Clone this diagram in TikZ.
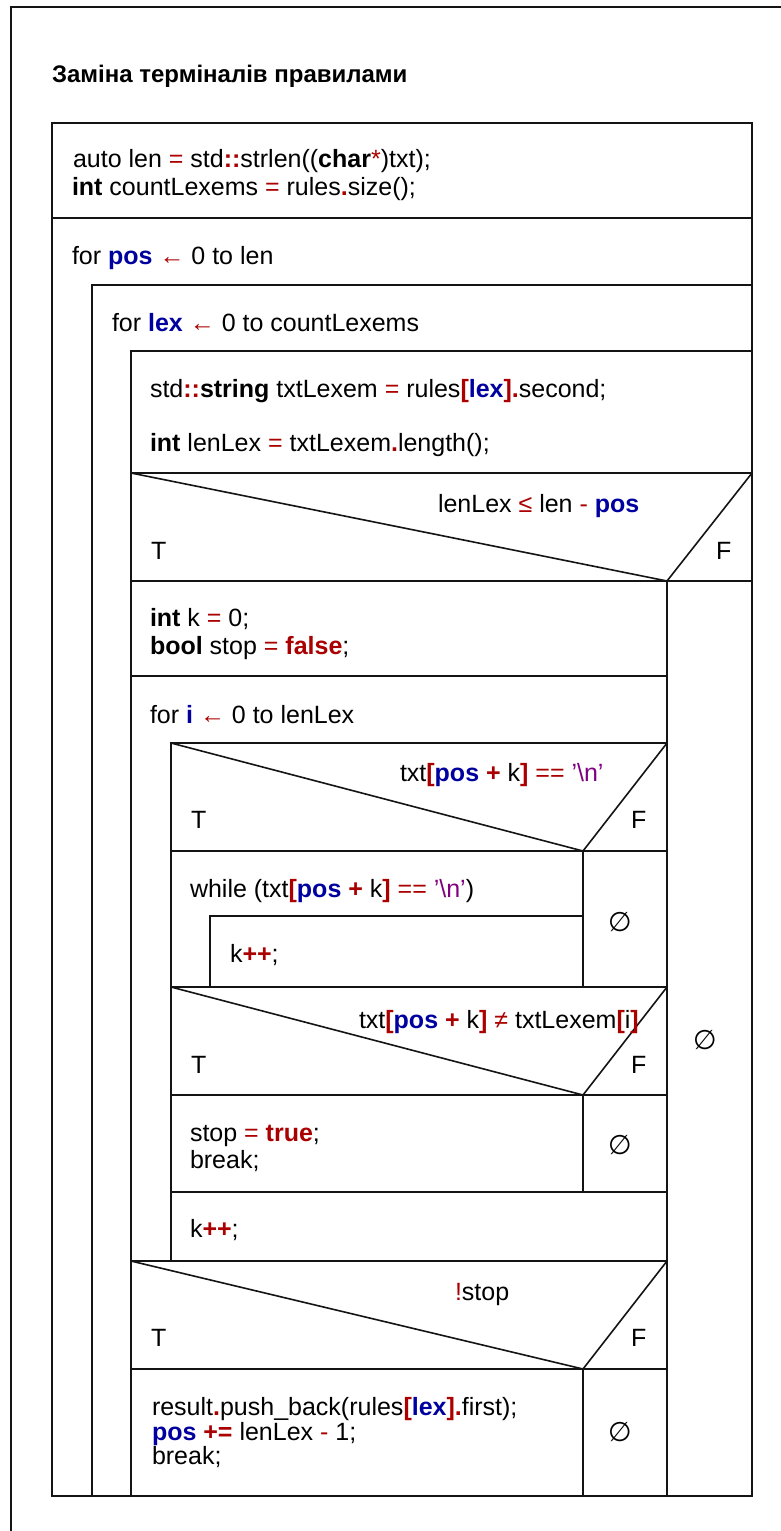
\documentclass[tikz,border=0pt]{standalone}
\usepackage{fontspec}
\setmainfont{Liberation Sans}
\newfontfamily\emptysetfont{DejaVu Sans}
\definecolor{opred}{RGB}{170,0,0}
\definecolor{varblue}{RGB}{0,0,160}
\definecolor{strpurple}{RGB}{128,0,128}
\definecolor{linegray}{RGB}{20,20,20}
% syntax highlighting of the code tokens
\newcommand\tokop[1]{\textcolor{opred}{#1}}
\newcommand\tokopb[1]{\textcolor{opred}{\bfseries #1}}
\newcommand\tokvar[1]{\textcolor{varblue}{\bfseries #1}}
\newcommand\tokstr[1]{\textcolor{strpurple}{#1}}
\newcommand\tokarrow{\tokop{\char"2190}}
\begin{document}
\begin{tikzpicture}[x=1pt,y=-1pt,
  every node/.style={inner sep=0pt, outer sep=0pt, font=\fontsize{25}{28}\selectfont},
  code/.style={anchor=base west},
  branch/.style={anchor=base west},
  emptycell/.style={anchor=center, font=\fontsize{27}{30}\emptysetfont},
  frame/.style={line width=2pt, draw=linegray},
  cell/.style={line width=1.7pt, draw=linegray, line cap=rect},
  slant/.style={line width=1.6pt, draw=linegray}]
\useasboundingbox (0,0) rectangle (781,1531);
\fill[white] (0,0) rectangle (781,1531);

% diagram frame
\draw[frame] (11,1531) -- (11,7) -- (781,7);
\node[code, font=\fontsize{24}{28}\selectfont\bfseries] (title) at (52,82) {Заміна терміналів правилами};

% outer box and initial statements
\draw[cell] (52,123) rectangle (752,1496);
\draw[cell] (52,218) -- (752,218);
\node[code] (s1) at (73,167) {auto len \tokop{=} std\tokopb{::}strlen((\textbf{char}\tokop{*})txt);};
\node[code] (s2) at (72,195) {\textbf{int} countLexems \tokop{=} rules\tokopb{.}size();};

% loop over pos
\node[code] (forpos) at (72,264) {for \tokvar{pos} \tokarrow{} 0 to len};
\draw[cell] (92,1496) -- (92,285) -- (752,285);

% loop over lex
\node[code] (forlex) at (112,331) {for \tokvar{lex} \tokarrow{} 0 to countLexems};
\draw[cell] (131,1496) -- (131,351) -- (752,351);
\node[code] (s3) at (150,397) {std\tokopb{::}\textbf{string} txtLexem \tokop{=} rules\tokopb{[}\tokvar{lex}\tokopb{]}\tokopb{.}second;};
\node[code] (s4) at (150,451) {\textbf{int} lenLex \tokop{=} txtLexem\tokopb{.}length();};

% if lenLex <= len - pos
\draw[cell] (131,473) -- (752,473);
\draw[slant] (131,473) -- (667,581) -- (752,473);
\draw[cell] (131,581) -- (752,581);
\draw[cell] (667,581) -- (667,1496);
\node[code] (c1) at (438,512) {lenLex \tokop{≤} len \tokop{-} \tokvar{pos}};
\node[branch] (c1t) at (151,559) {T};
\node[branch] (c1f) at (716,559) {F};
\node[emptycell] (e1) at (705,1040) {∅};

\node[code] (s5) at (150,626) {\textbf{int} k \tokop{=} 0;};
\node[code] (s6) at (150,654) {\textbf{bool} stop \tokop{=} \tokopb{false};};
\draw[cell] (131,676) -- (667,676);

% loop over i
\node[code] (fori) at (150,723) {for \tokvar{i} \tokarrow{} 0 to lenLex};
\draw[cell] (171,1261) -- (171,743) -- (667,743);

% if txt[pos + k] == '\n'
\draw[slant] (171,743) -- (583,851) -- (667,743);
\draw[cell] (171,851) -- (667,851);
\draw[cell] (583,851) -- (583,987);
\node[code] (c2) at (400,781) {txt\tokopb{[}\tokvar{pos} \tokopb{+} k\tokopb{]} \tokop{==} \tokstr{'\textbackslash n'}};
\node[branch] (c2t) at (191,828) {T};
\node[branch] (c2f) at (631,828) {F};
\node[emptycell] (e2) at (620,922) {∅};
\node[code] (w1) at (190,897) {while (txt\tokopb{[}\tokvar{pos} \tokopb{+} k\tokopb{]} \tokop{==} \tokstr{'\textbackslash n'})};
\draw[cell] (210,987) -- (210,916) -- (583,916);
\node[code] (w2) at (230,962) {k\tokopb{++};};

% if txt[pos + k] != txtLexem[i]
\draw[cell] (171,987) -- (667,987);
\draw[slant] (171,987) -- (583,1095) -- (667,987);
\draw[cell] (171,1095) -- (667,1095);
\draw[cell] (583,1095) -- (583,1192);
\node[code] (c3) at (359,1028) {txt\tokopb{[}\tokvar{pos} \tokopb{+} k\tokopb{]} \tokop{≠} txtLexem\tokopb{[}i\tokopb{]}};
\node[branch] (c3t) at (191,1073) {T};
\node[branch] (c3f) at (631,1073) {F};
\node[code] (s7) at (190,1141) {stop \tokop{=} \tokopb{true};};
\node[code] (s8) at (190,1168) {break;};
\node[emptycell] (e3) at (620,1145) {∅};

\draw[cell] (171,1192) -- (667,1192);
\node[code] (s9) at (190,1237) {k\tokopb{++};};

% if !stop
\draw[cell] (131,1261) -- (667,1261);
\draw[slant] (131,1261) -- (583,1369) -- (667,1261);
\draw[cell] (131,1369) -- (667,1369);
\draw[cell] (583,1369) -- (583,1496);
\node[code] (c4) at (455,1300) {\tokop{!}stop};
\node[branch] (c4t) at (151,1346) {T};
\node[branch] (c4f) at (631,1346) {F};
\node[code] (s10) at (152,1415) {result\tokopb{.}push\_back(rules\tokopb{[}\tokvar{lex}\tokopb{]}\tokopb{.}first);};
\node[code] (s11) at (152,1440) {\tokvar{pos} \tokopb{+=} lenLex \tokop{-} 1;};
\node[code] (s12) at (152,1464) {break;};
\node[emptycell] (e4) at (620,1432) {∅};
\end{tikzpicture}
\end{document}
